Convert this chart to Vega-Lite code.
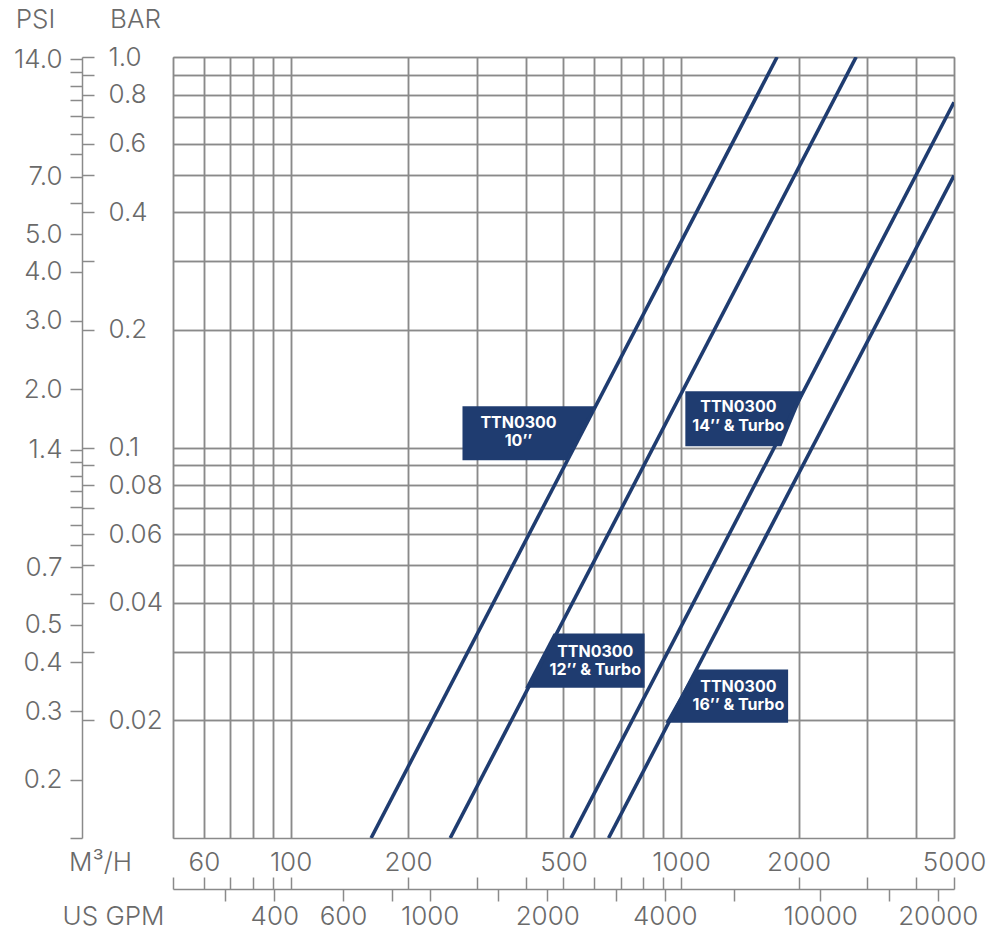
{
  "$schema": "https://vega.github.io/schema/vega-lite/v6.json",
  "width": 781,
  "height": 781,
  "autosize": {"type": "none"},
  "padding": {"left": 173, "top": 57, "right": 46, "bottom": 103},
  "background": "white",
  "view": {"stroke": null},
  "config": {
    "axis": {
      "labelFont": "Inter", "labelFontSize": 26, "labelColor": "#6a6a6a", "labelFontWeight": 300,
      "titleFont": "Inter", "titleFontSize": 26, "titleColor": "#6a6a6a", "titleFontWeight": 300,
      "tickColor": "#8a8a8a", "tickWidth": 1.5,
      "domainColor": "#8a8a8a", "domainWidth": 1.5,
      "gridColor": "#8a8a8a", "gridWidth": 1.5, "gridOpacity": 1,
      "labelFlush": false, "labelOverlap": false, "labelBound": false
    }
  },
  "datasets": {
    "curves": [
      {"model": "10", "flow": 160.8, "bar": 0.01},
      {"model": "10", "flow": 1762, "bar": 1.0},
      {"model": "12", "flow": 256.4, "bar": 0.01},
      {"model": "12", "flow": 2808, "bar": 1.0},
      {"model": "14", "flow": 522.6, "bar": 0.01},
      {"model": "14", "flow": 5000, "bar": 0.766},
      {"model": "16", "flow": 652.2, "bar": 0.01},
      {"model": "16", "flow": 5000, "bar": 0.497}
    ],
    "boxes": [
      {"model": "10", "bar": 0.1276, "left": 275.6, "right": 600.6},
      {"model": "10", "bar": 0.0928, "left": 275.6, "right": 510.2},
      {"model": "12", "bar": 0.0334, "left": 471.5, "right": 806.6},
      {"model": "12", "bar": 0.02424, "left": 399, "right": 806.6},
      {"model": "14", "bar": 0.1394, "left": 1025.6, "right": 2070},
      {"model": "14", "bar": 0.1008, "left": 1025.6, "right": 1807},
      {"model": "16", "bar": 0.027, "left": 1088, "right": 1880},
      {"model": "16", "bar": 0.01972, "left": 911.6, "right": 1880}
    ],
    "tags": [
      {"text": "TTN0300\n10’’", "flow": 383.5, "bar": 0.1106},
      {"text": "TTN0300\n12’’ & Turbo", "flow": 603, "bar": 0.0287},
      {"text": "TTN0300\n14’’ & Turbo", "flow": 1402, "bar": 0.1213},
      {"text": "TTN0300\n16’’ & Turbo", "flow": 1402, "bar": 0.02331}
    ]
  },
  "layer": [
    {
      "data": {"name": "boxes"},
      "mark": {"type": "area", "orient": "horizontal", "color": "#1f3c70", "opacity": 1},
      "encoding": {
        "y": {
          "field": "bar", "type": "quantitative",
          "scale": {"type": "log", "domain": [0.01, 1], "nice": false},
          "axis": {
            "orient": "left", "offset": 79, "domain": false, "tickSize": 12,
            "values": [1, 0.9, 0.8, 0.7, 0.6, 0.5, 0.4, 0.3, 0.2, 0.1, 0.09, 0.08, 0.07, 0.06, 0.05, 0.04, 0.03, 0.02],
            "labelExpr": "indexof([1,0.8,0.6,0.4,0.2,0.1,0.08,0.06,0.04,0.02], datum.value) >= 0 ? (datum.value >= 0.1 ? format(datum.value, '.1f') : format(datum.value, '.2f')) : ''",
            "labelAlign": "left", "labelBaseline": "middle", "labelPadding": -26,
            "title": "BAR", "titleAngle": 0, "titleX": 41, "titleY": -38, "titleAlign": "center", "titleBaseline": "middle"
          }
        },
        "x": {
          "field": "left", "type": "quantitative",
          "scale": {"type": "log", "domain": [50, 5000], "nice": false},
          "axis": {
            "orient": "bottom", "offset": 39, "domain": false, "tickSize": 12,
            "values": [50, 60, 70, 80, 90, 100, 200, 300, 400, 500, 600, 700, 800, 900, 1000, 2000, 3000, 4000, 5000],
            "labelExpr": "indexof([60,100,200,500,1000,2000,5000], datum.value) >= 0 ? '' + datum.value : ''",
            "labelBaseline": "middle", "labelPadding": -27,
            "title": "M³/H", "titleX": -73, "titleY": -15, "titleAlign": "center", "titleBaseline": "middle"
          }
        },
        "x2": {"field": "right"},
        "detail": {"field": "model"}
      }
    },
    {
      "data": {"name": "curves"},
      "mark": {"type": "line", "color": "#1f3c70", "strokeWidth": 3.6, "clip": true},
      "encoding": {
        "x": {
          "field": "flow", "type": "quantitative",
          "scale": {"type": "log", "domain": [50, 5000], "nice": false},
          "axis": {
            "orient": "bottom", "grid": true, "labels": false, "ticks": false, "domain": false, "title": null,
            "values": [50, 60, 70, 80, 90, 100, 200, 300, 400, 500, 600, 700, 800, 900, 1000, 2000, 3000, 4000, 5000]
          }
        },
        "y": {
          "field": "bar", "type": "quantitative",
          "scale": {"type": "log", "domain": [0.01, 1], "nice": false},
          "axis": {
            "orient": "left", "grid": true, "labels": false, "ticks": false, "domain": false, "title": null,
            "values": [1, 0.9, 0.8, 0.7, 0.6, 0.5, 0.4, 0.3, 0.2, 0.1, 0.09, 0.08, 0.07, 0.06, 0.05, 0.04, 0.03, 0.02, 0.01]
          }
        },
        "detail": {"field": "model"}
      }
    },
    {
      "data": {"name": "tags"},
      "mark": {"type": "text", "color": "white", "font": "Inter", "fontWeight": "bold", "fontSize": 16, "lineHeight": 18.5, "lineBreak": "\n", "align": "center", "baseline": "middle", "dy": -7.5},
      "encoding": {
        "x": {
          "field": "flow", "type": "quantitative",
          "scale": {"type": "log", "domain": [50, 5000], "nice": false},
          "axis": {
            "orient": "bottom", "offset": 51, "domain": true, "tickSize": 12,
            "values": [68.137, 90.85, 136.27, 181.7, 227.12, 340.69, 454.25, 681.38, 908.5, 1362.8, 2271.2, 3406.9, 4542.5],
            "labelExpr": "indexof([400,600,1000,2000,4000,10000,20000], round(datum.value*4.40287/100)*100) >= 0 ? '' + round(datum.value*4.40287/100)*100 : ''",
            "labelBaseline": "middle", "labelPadding": 15,
            "title": "US GPM", "titleX": -60, "titleY": 27, "titleAlign": "center", "titleBaseline": "middle"
          }
        },
        "y": {
          "field": "bar", "type": "quantitative",
          "scale": {"type": "log", "domain": [0.01, 1], "nice": false},
          "axis": {
            "orient": "left", "offset": 91, "domain": true, "tickSize": 12,
            "values": [0.98592, 0.91549, 0.84507, 0.77465, 0.70423, 0.6338, 0.56338, 0.49296, 0.42254, 0.35211, 0.28169, 0.21127, 0.14085, 0.098592, 0.091549, 0.084507, 0.077465, 0.070423, 0.06338, 0.056338, 0.049296, 0.042254, 0.035211, 0.028169, 0.021127, 0.014085, 0.01],
            "labelExpr": "indexof([14,7,5,4,3,2,1.4,0.7,0.5,0.4,0.3,0.2], round(datum.value*142)/10) >= 0 ? format(datum.value*14.2, '.1f') : ''",
            "labelAlign": "right", "labelBaseline": "middle", "labelPadding": 8,
            "title": "PSI", "titleAngle": 0, "titleX": -47, "titleY": -38, "titleAlign": "center", "titleBaseline": "middle"
          }
        },
        "text": {"field": "text"}
      }
    }
  ],
  "resolve": {"axis": {"x": "independent", "y": "independent"}}
}
